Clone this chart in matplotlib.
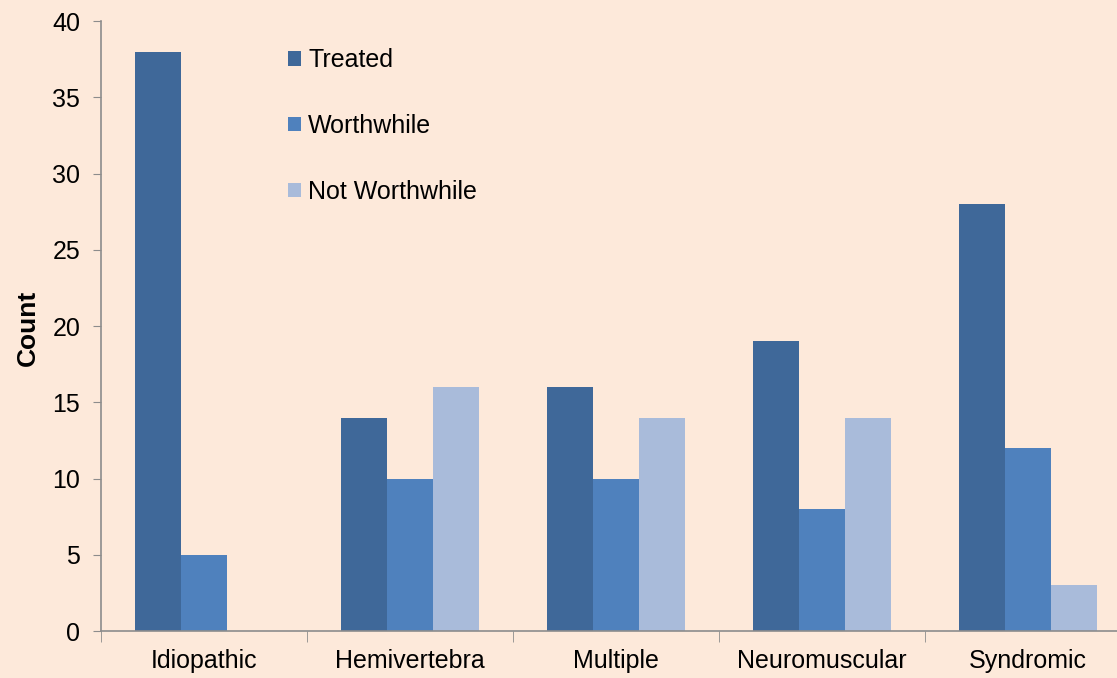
import numpy as np
import matplotlib
matplotlib.use("Agg")
import matplotlib.pyplot as plt
from matplotlib.patches import Patch

categories = ["Idiopathic", "Hemivertebra", "Multiple", "Neuromuscular", "Syndromic"]
series_names = ["Treated", "Worthwhile", "Not Worthwhile"]
treated = [38, 14, 16, 19, 28]
worthwhile = [5, 10, 10, 8, 12]
not_worthwhile = [0, 16, 14, 14, 3]
yticks = [0, 5, 10, 15, 20, 25, 30, 35, 40]

colors = ["#3F6899", "#4F81BD", "#A9BBDA"]
bg = "#FDE9DA"
axis_grey = "#8C8C8C"

plt.rcParams["font.family"] = ["Liberation Sans", "DejaVu Sans"]

fig = plt.figure(figsize=(11.17, 6.78), dpi=100, facecolor=bg)
# axes runs a little past the right edge, as in the original crop
ax = fig.add_axes([0.0904, 0.069, 0.922, 0.9])
ax.set_facecolor(bg)

x = np.arange(len(categories))
w = 0.223
for i, vals in enumerate([treated, worthwhile, not_worthwhile]):
    ax.bar(x + (i - 1) * w, vals, width=w, color=colors[i], label=series_names[i],
           edgecolor="none", zorder=2)

ax.set_xlim(-0.5, len(categories) - 0.5)
ax.set_ylim(0, 40)
ax.set_yticks(yticks)
ax.set_xticks(x)
ax.set_xticklabels(categories, fontsize=18)
ax.set_xticks(np.arange(-0.5, len(categories), 1.0), minor=True)
ax.tick_params(axis="x", which="major", length=0, pad=13)
ax.tick_params(axis="x", which="minor", length=8, color=axis_grey, direction="out")
ax.tick_params(axis="y", length=6, color=axis_grey, labelsize=18, pad=9)

for s in ["top", "right"]:
    ax.spines[s].set_visible(False)
for s in ["left", "bottom"]:
    ax.spines[s].set_color(axis_grey)
    ax.spines[s].set_linewidth(1.2)

ax.set_ylabel("Count", fontsize=19, fontweight="bold")
ax.yaxis.set_label_coords(-0.059, 0.497)

handles = [Patch(facecolor=c, edgecolor="none") for c in colors]
ax.legend(handles, series_names, loc="upper left", bbox_to_anchor=(0.16, 0.992),
          frameon=False, fontsize=18, handlelength=0.5, handleheight=0.5,
          handletextpad=0.3, labelspacing=1.67)

fig.savefig("out.png", dpi=100, facecolor=bg)
